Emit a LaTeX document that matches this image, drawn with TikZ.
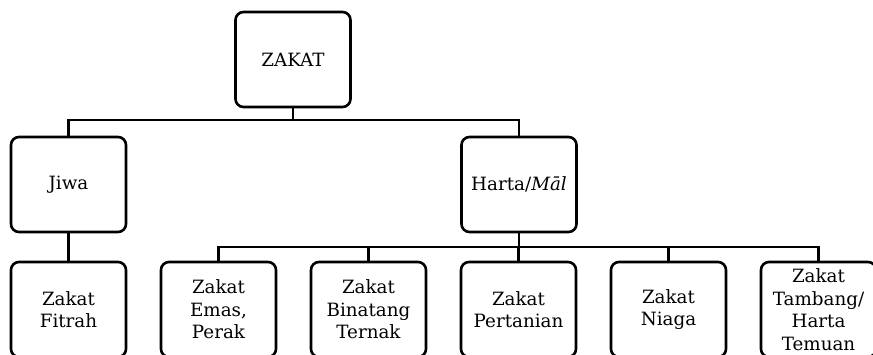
\documentclass[tikz,border=0pt]{standalone}
\usepackage{fontspec}
\setmainfont{DejaVu Serif}
\usetikzlibrary{positioning}

\begin{document}
\begin{tikzpicture}[
    x=1pt, y=1pt,
    node distance=35pt,
    box/.style={
      draw, line width=2.6pt, rounded corners=8pt,
      minimum width=115pt, minimum height=95pt,
      inner sep=1pt, outer sep=0pt, align=center,
      font=\fontsize{18.3}{22.5}\selectfont
    },
    link/.style={line width=2.6pt}
  ]
  \useasboundingbox (0,0) rectangle (873,-355);

  \node[box] (zakat) at (293,-59.5) {ZAKAT};

  \node[box] (jiwa)  at (68.5,-184.5) {Jiwa};
  \node[box] (harta) at (519,-184.5) {Harta/\textit{Māl}};

  \node[box, below=30pt of jiwa] (fitrah) {Zakat\\Fitrah};
  \node[box, right=of fitrah] (emas) {Zakat\\Emas,\\Perak};
  \node[box, right=of emas] (binatang) {Zakat\\Binatang\\Ternak};
  \node[box, right=of binatang] (tani) {Zakat\\Pertanian};
  \node[box, right=of tani] (niaga) {Zakat\\Niaga};
  \node[box, right=of niaga] (tambang) {Zakat\\Tambang/\\Harta\\Temuan};

  % first level
  \draw[link] (zakat.south) -- ++(0,-13) -| (jiwa.north);
  \draw[link] (zakat.south) -- ++(0,-13) -| (harta.north);

  % second level
  \draw[link] (jiwa) -- (fitrah);
  \foreach \n in {emas, binatang, tani, niaga, tambang}
    \draw[link] (harta.south) -- ++(0,-15) -| (\n.north);

\end{tikzpicture}
\end{document}
